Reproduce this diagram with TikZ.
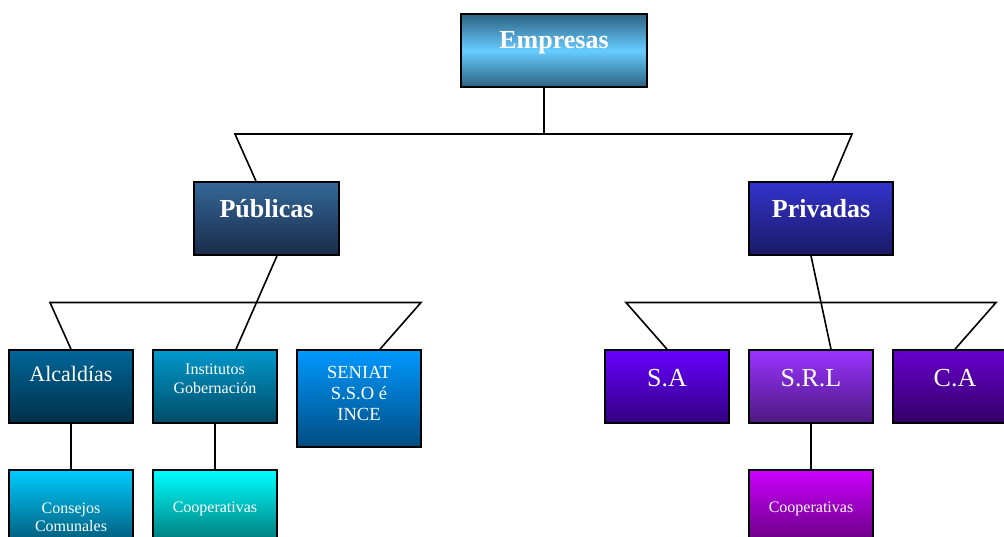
\documentclass[tikz,border=0pt]{standalone}
\usepackage{fontspec}
\setmainfont{Liberation Serif}
% box colours (top / bottom of each vertical gradient)
\definecolor{empD}{HTML}{2D6282}
\definecolor{empL}{HTML}{66CCFF}
\definecolor{pubT}{RGB}{51,104,152}
\definecolor{pubB}{RGB}{27,43,74}
\definecolor{privT}{RGB}{51,51,204}
\definecolor{privB}{RGB}{26,26,102}
\definecolor{alcT}{RGB}{0,102,153}
\definecolor{alcB}{RGB}{0,48,72}
\definecolor{insT}{RGB}{0,153,204}
\definecolor{insB}{RGB}{0,76,102}
\definecolor{senT}{RGB}{0,153,255}
\definecolor{senB}{RGB}{0,76,128}
\definecolor{conT}{RGB}{0,204,255}
\definecolor{conB}{RGB}{0,90,120}
\definecolor{copT}{RGB}{0,255,255}
\definecolor{copB}{RGB}{0,120,120}
\definecolor{saT}{RGB}{102,0,255}
\definecolor{saB}{RGB}{51,0,128}
\definecolor{srlT}{RGB}{153,51,255}
\definecolor{srlB}{RGB}{76,26,128}
\definecolor{caT}{RGB}{102,0,204}
\definecolor{caB}{RGB}{51,0,102}
\definecolor{cpvT}{RGB}{204,0,255}
\definecolor{cpvB}{RGB}{102,0,128}
\begin{document}
\begin{tikzpicture}[x=1pt,y=-1pt,
  box/.style 2 args={rectangle, draw=black, line width=1.6pt, inner sep=0pt,
    top color=#1, bottom color=#2},
  conn/.style={draw=black, line width=1.6pt},
  txt/.style={text=white, inner sep=0pt, align=center},
  big/.style={font=\bfseries\fontsize{26}{30}\selectfont},
  mid/.style={font=\fontsize{26}{30}\selectfont},
  small/.style={font=\fontsize{16}{18.5}\selectfont}]
\useasboundingbox (0,0) rectangle (1004,537);
\fill[white] (0,0) rectangle (1004,537);

% top level
\node[box={empD}{empD}, middle color=empL, minimum width=186pt, minimum height=73pt] (emp) at (554,50.5) {};
\node[txt, big] (empT) at (554,42.5) {Empresas};

% second level
\node[box={pubT}{pubB}, minimum width=145pt, minimum height=73pt] (pub) at (266.5,218.5) {};
\node[txt, big] (pubTx) at (266.5,209) {Públicas};
\node[box={privT}{privB}, minimum width=144pt, minimum height=73pt] (priv) at (821,218.5) {};
\node[txt, big] (privTx) at (821,209) {Privadas};

% public branch
\node[box={alcT}{alcB}, minimum width=124pt, minimum height=73pt] (alc) at (71,386.5) {};
\node[txt, font=\fontsize{22}{26}\selectfont] (alcTx) at (71,374) {Alcaldías};
\node[box={insT}{insB}, minimum width=124pt, minimum height=73pt] (ins) at (215,386.5) {};
\node[txt, font=\fontsize{16}{19}\selectfont] (insTx) at (215,378.5) {Institutos\\Gobernación};
\node[box={senT}{senB}, minimum width=124pt, minimum height=97pt] (sen) at (359,398.5) {};
\node[txt, font=\fontsize{18.5}{21}\selectfont] (senTx) at (359,393.5) {SENIAT\\S.S.O é\\INCE};
\node[box={conT}{conB}, minimum width=124pt, minimum height=73pt] (con) at (71,506.5) {};
\node[txt, small] (conTx) at (71,517.5) {Consejos\\Comunales};
\node[box={copT}{copB}, minimum width=124pt, minimum height=73pt] (coopA) at (215,506.5) {};
\node[txt, small] (coopATx) at (215,508.5) {Cooperativas};

% private branch
\node[box={saT}{saB}, minimum width=124pt, minimum height=73pt] (sa) at (667,386.5) {};
\node[txt, mid] (saTx) at (667,378) {S.A};
\node[box={srlT}{srlB}, minimum width=124pt, minimum height=73pt] (srl) at (811,386.5) {};
\node[txt, mid] (srlTx) at (811,378) {S.R.L};
\node[box={caT}{caB}, minimum width=124pt, minimum height=73pt] (ca) at (955,386.5) {};
\node[txt, mid] (caTx) at (955,378) {C.A};
\node[box={cpvT}{cpvB}, minimum width=124pt, minimum height=73pt] (coopB) at (811,506.5) {};
\node[txt, small] (coopBTx) at (811,508.5) {Cooperativas};

% connectors: top level
\coordinate (hl) at (235,134);
\coordinate (hr) at (852,134);
\draw[conn] ([xshift=-10pt]emp.south) -- ([xshift=-10pt]emp.south |- hl);
\draw[conn] ([xshift=-10.5pt]pub.north) -- (hl) -- (hr) -- ([xshift=11pt]priv.north);

% connectors: public branch
\coordinate (pl) at (50,302.5);
\coordinate (pr) at (421,302.5);
\draw[conn] (alc.north) -- (pl) -- (pr) -- ([xshift=21pt]sen.north);
\draw[conn] ([xshift=10.5pt]pub.south) -- ([xshift=21pt]ins.north);
\draw[conn] (alc.south) -- (con.north);
\draw[conn] (ins.south) -- (coopA.north);

% connectors: private branch
\coordinate (ql) at (626,302.5);
\coordinate (qr) at (996,302.5);
\draw[conn] (sa.north) -- (ql) -- (qr) -- (ca.north);
\draw[conn] ([xshift=-10pt]priv.south) -- ([xshift=20pt]srl.north);
\draw[conn] (srl.south) -- (coopB.north);
\end{tikzpicture}
\end{document}
